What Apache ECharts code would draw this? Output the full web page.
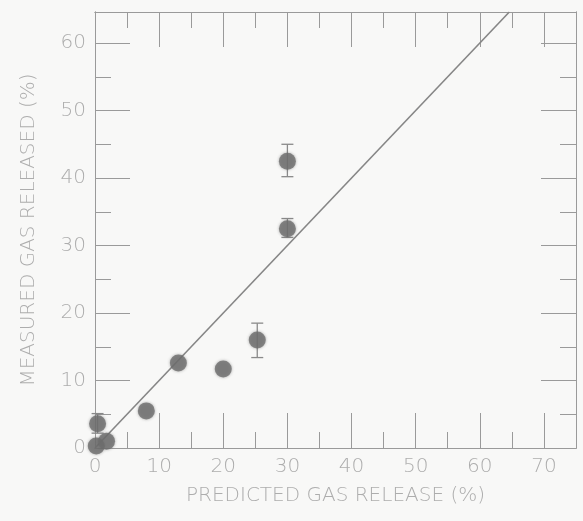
<!DOCTYPE html>
<html>
<head>
<meta charset="utf-8">
<script src="https://cdn.jsdelivr.net/npm/echarts@6/dist/echarts.min.js"></script>
<style>
  html, body { margin: 0; padding: 0; background: #f8f8f7; }
  #chart { width: 583px; height: 521px; }
</style>
</head>
<body>
<div id="chart"></div>
<script>
// Predicted vs. measured fission gas release (%)
const predicted = [0.2, 1.8, 0.4, 8.0, 13.0, 20.0, 25.3, 30.0, 30.0];
const measured  = [0.3, 1.0, 3.6, 5.5, 12.6, 11.7, 16.0, 42.5, 32.5];
const errLow    = [null, null, 2.2, null, null, null, 13.4, 40.2, 31.2];
const errHigh   = [null, null, 5.1, null, null, null, 18.5, 45.0, 34.0];
// Line of perfect agreement (measured = predicted)
const agreeX = [0, 64.6];
const agreeY = [0, 64.6];

const xMax = 75;
const yMax = 64.6;

const ink = '#9a9a9a';
const textInk = '#adadad';
const font = 'DejaVu Sans';

function axisBase(extra) {
  return Object.assign({
    type: 'value',
    min: 0,
    interval: 10,
    splitLine: { show: false },
    axisLine: { onZero: false, lineStyle: { color: ink, width: 1 } },
    axisTick: { inside: true, length: 35, lineStyle: { color: ink, width: 1 } },
    axisLabel: { show: false }
  }, extra);
}
function majorLabel() {
  return {
    show: true,
    color: textInk,
    fontFamily: font,
    fontWeight: 200,
    fontSize: 20,
    margin: 9,
    formatter: v => (Math.abs(v % 10) < 1e-9 ? String(v) : '')
  };
}
function minor(ax) {
  ax.interval = 5;
  ax.axisTick = { inside: true, length: 16, lineStyle: { color: ink, width: 1 } };
  return ax;
}

const titleStyle = { color: textInk, fontFamily: font, fontWeight: 200, fontSize: 20 };

const xAxes = [
  axisBase({ position: 'bottom', max: xMax, axisLabel: majorLabel(),
    name: 'PREDICTED GAS RELEASE (%)', nameLocation: 'middle', nameGap: 38,
    nameTextStyle: titleStyle }),
  minor(axisBase({ position: 'bottom', max: xMax })),
  axisBase({ position: 'top', max: xMax }),
  minor(axisBase({ position: 'top', max: xMax }))
];
const yAxes = [
  axisBase({ position: 'left', max: yMax, axisLabel: majorLabel(),
    name: 'MEASURED GAS RELEASED (%)', nameLocation: 'middle', nameGap: 56,
    nameTextStyle: titleStyle }),
  minor(axisBase({ position: 'left', max: yMax })),
  axisBase({ position: 'right', max: yMax }),
  minor(axisBase({ position: 'right', max: yMax }))
];

const points = predicted.map((x, i) => [x, measured[i]]);
const bars = [];
predicted.forEach((x, i) => {
  if (errLow[i] != null) bars.push([x, errLow[i], errHigh[i]]);
});

const chart = echarts.init(document.getElementById('chart'), null, { renderer: 'canvas' });
chart.setOption({
  backgroundColor: '#f8f8f7',
  animation: false,
  grid: { left: 95, right: 7, top: 12, bottom: 73, containLabel: false },
  xAxis: xAxes,
  yAxis: yAxes,
  series: [
    {
      type: 'line',
      data: agreeX.map((x, i) => [x, agreeY[i]]),
      showSymbol: false,
      lineStyle: { color: '#868686', width: 1.6 },
      z: 2
    },
    {
      type: 'custom',
      data: bars,
      renderItem: (params, api) => {
        const x = api.value(0);
        const lo = api.coord([x, api.value(1)]);
        const hi = api.coord([x, api.value(2)]);
        const cap = 6;
        const style = { stroke: '#8a8a8a', lineWidth: 1.3 };
        return {
          type: 'group',
          children: [
            { type: 'line', shape: { x1: lo[0], y1: lo[1], x2: hi[0], y2: hi[1] }, style },
            { type: 'line', shape: { x1: lo[0] - cap, y1: lo[1], x2: lo[0] + cap, y2: lo[1] }, style },
            { type: 'line', shape: { x1: hi[0] - cap, y1: hi[1], x2: hi[0] + cap, y2: hi[1] }, style }
          ]
        };
      },
      z: 3
    },
    {
      type: 'scatter',
      data: points,
      symbol: 'circle',
      symbolSize: 17,
      itemStyle: { color: '#6e6e6e', shadowBlur: 3, shadowColor: 'rgba(90,90,90,0.6)' },
      z: 4
    }
  ]
});
</script>
</body>
</html>
